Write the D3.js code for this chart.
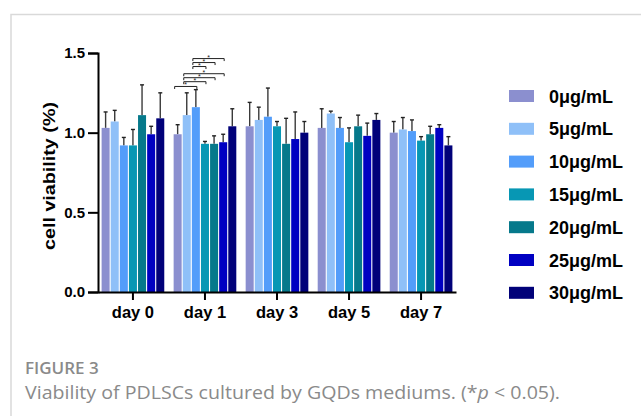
<!DOCTYPE html>
<html>
<head>
<meta charset="utf-8">
<script src="https://cdn.jsdelivr.net/npm/d3@7"></script>
<style>
  body { margin: 0; background: #fff; }
  svg { display: block; }
</style>
</head>
<body>
<svg id="chart" width="641" height="416"></svg>
<script>
// chart data
const days = ["day 0", "day 1", "day 3", "day 5", "day 7"];
const doses = ["0μg/mL", "5μg/mL", "10μg/mL", "15μg/mL", "20μg/mL", "25μg/mL", "30μg/mL"];
const doseColors = ["#8b8fcf", "#8fc0f8", "#539dfa", "#0797b4", "#06798b", "#0000c2", "#010179"];

// mean viability per day, one entry per dose
const means = [
  [1.03, 1.07, 0.92, 0.92, 1.11, 0.99, 1.09],
  [0.99, 1.11, 1.16, 0.93, 0.93, 0.94, 1.04],
  [1.04, 1.08, 1.10, 1.04, 0.93, 0.96, 1.00],
  [1.03, 1.12, 1.03, 0.94, 1.04, 0.98, 1.08],
  [1.00, 1.02, 1.01, 0.95, 0.99, 1.03, 0.92]
];
// standard deviation (upper error bar only)
const errors = [
  [0.10, 0.07, 0.05, 0.10, 0.19, 0.05, 0.16],
  [0.06, 0.14, 0.11, 0.015, 0.05, 0.05, 0.11],
  [0.15, 0.08, 0.18, 0.03, 0.16, 0.17, 0.07],
  [0.12, 0.015, 0.065, 0.09, 0.07, 0.08, 0.04],
  [0.07, 0.075, 0.07, 0.025, 0.05, 0.02, 0.055]
];
const yTicks = [0, 0.5, 1.0, 1.5];

// significance brackets on day 1: dose index pairs, bracket height (data units)
const sigDay = "day 1";
const sigPairs = [[0, 2], [1, 3], [1, 4], [1, 5], [2, 3], [2, 4], [2, 5]];
const sigLevels = [1.29, 1.32, 1.345, 1.37, 1.415, 1.44, 1.465];

const svg = d3.select("#chart");

// panel border
svg.append("rect")
  .attr("x", 11).attr("y", 14.5)
  .attr("width", 700).attr("height", 500)
  .attr("fill", "none")
  .attr("stroke", "#d9d9d9")
  .attr("stroke-width", 1.5);

const y = d3.scaleLinear().domain([0, 1.5]).range([292, 53]);
const x = d3.scaleBand().domain(days).range([98, 456])
  .paddingInner(0.13).paddingOuter(0.05);
const xi = d3.scaleBand().domain(doses).range([0, x.bandwidth()]).paddingInner(0.12);

const fontAxis = "'Liberation Sans', Arial, sans-serif";

// bars
const groups = svg.append("g").selectAll("g")
  .data(days)
  .join("g")
  .attr("transform", d => `translate(${x(d)},0)`);

groups.each(function(day, di) {
  const g = d3.select(this);
  const rows = doses.map((dose, k) => ({ dose, k, v: means[di][k], e: errors[di][k] }));

  g.selectAll("line.err")
    .data(rows)
    .join("line")
    .attr("class", "err")
    .attr("x1", d => xi(d.dose) + xi.bandwidth() / 2)
    .attr("x2", d => xi(d.dose) + xi.bandwidth() / 2)
    .attr("y1", d => y(d.v))
    .attr("y2", d => y(d.v + d.e))
    .attr("stroke", "#3a3a3a")
    .attr("stroke-width", 1.4);

  g.selectAll("line.cap")
    .data(rows)
    .join("line")
    .attr("class", "cap")
    .attr("x1", d => xi(d.dose) + xi.bandwidth() / 2 - 2)
    .attr("x2", d => xi(d.dose) + xi.bandwidth() / 2 + 2)
    .attr("y1", d => y(d.v + d.e))
    .attr("y2", d => y(d.v + d.e))
    .attr("stroke", "#222")
    .attr("stroke-width", 1.4);

  g.selectAll("rect")
    .data(rows)
    .join("rect")
    .attr("x", d => xi(d.dose))
    .attr("y", d => y(d.v))
    .attr("width", xi.bandwidth())
    .attr("height", d => y(0) - y(d.v))
    .attr("fill", d => doseColors[d.k]);
});

// significance brackets
const sig = svg.append("g").attr("transform", `translate(${x(sigDay)},0)`);
sigPairs.forEach((p, i) => {
  const x1 = xi(doses[p[0]]) + xi.bandwidth() / 2 - 3;
  const x2 = xi(doses[p[1]]) + xi.bandwidth() / 2 + 1;
  const yy = y(sigLevels[i]);
  sig.append("path")
    .attr("d", `M${x1},${yy + 2.5}V${yy}H${x2}V${yy + 2.5}`)
    .attr("fill", "none")
    .attr("stroke", "#222")
    .attr("stroke-width", 1);
  sig.append("text")
    .attr("x", (x1 + x2) / 2)
    .attr("y", yy + 1)
    .attr("text-anchor", "middle")
    .attr("font-family", fontAxis)
    .attr("font-size", "7px")
    .attr("fill", "#222")
    .text("*");
});

// y axis
const yAxis = svg.append("g")
  .attr("transform", "translate(98,0)")
  .call(d3.axisLeft(y).tickValues(yTicks).tickFormat(d3.format(".1f")).tickSize(10).tickPadding(3));
yAxis.select(".domain").attr("stroke", "#000").attr("stroke-width", 2);
yAxis.selectAll(".tick line").attr("stroke", "#000").attr("stroke-width", 2);
yAxis.selectAll(".tick text")
  .attr("font-family", fontAxis)
  .attr("font-weight", "bold")
  .attr("font-size", "15px")
  .attr("fill", "#000");

// x axis
const xAxis = svg.append("g")
  .attr("transform", "translate(0,292)")
  .call(d3.axisBottom(x).tickSize(8).tickPadding(6).tickSizeOuter(0));
xAxis.select(".domain").attr("stroke", "#000").attr("stroke-width", 2);
xAxis.selectAll(".tick line").attr("stroke", "#000").attr("stroke-width", 2);
xAxis.selectAll(".tick text")
  .attr("font-family", fontAxis)
  .attr("font-weight", "bold")
  .attr("font-size", "16.5px")
  .attr("fill", "#000");

// y title
svg.append("text")
  .attr("transform", "translate(55,176) rotate(-90)")
  .attr("text-anchor", "middle")
  .attr("font-family", fontAxis)
  .attr("font-weight", "bold")
  .attr("font-size", "17px")
  .attr("textLength", 148)
  .attr("lengthAdjust", "spacingAndGlyphs")
  .text("cell viability (%)");

// legend
const legend = svg.append("g").attr("transform", "translate(509,96)");
const item = legend.selectAll("g")
  .data(doses)
  .join("g")
  .attr("transform", (d, i) => `translate(0,${i * 32.8})`);
item.append("rect")
  .attr("x", 0).attr("y", -6)
  .attr("width", 25).attr("height", 12)
  .attr("fill", (d, i) => doseColors[i]);
item.append("text")
  .attr("x", 40).attr("y", 6.5)
  .attr("font-family", fontAxis)
  .attr("font-weight", "bold")
  .attr("font-size", "18px")
  .attr("fill", "#000")
  .text(d => d);

// caption
svg.append("text")
  .attr("x", 25).attr("y", 373.5)
  .attr("font-family", "'Open Sans', sans-serif")
  .attr("font-weight", 600)
  .attr("font-size", "17px")
  .attr("fill", "#8a8a8a")
  .text("FIGURE 3");

const cap = svg.append("text")
  .attr("x", 25).attr("y", 399)
  .attr("font-family", "'Open Sans', sans-serif")
  .attr("font-size", "18.5px")
  .attr("textLength", 535)
  .attr("lengthAdjust", "spacingAndGlyphs")
  .attr("fill", "#8a8a8a");
cap.append("tspan").text("Viability of PDLSCs cultured by GQDs mediums. (*");
cap.append("tspan").attr("font-style", "italic").text("p");
cap.append("tspan").text(" < 0.05).");
</script>
</body>
</html>
